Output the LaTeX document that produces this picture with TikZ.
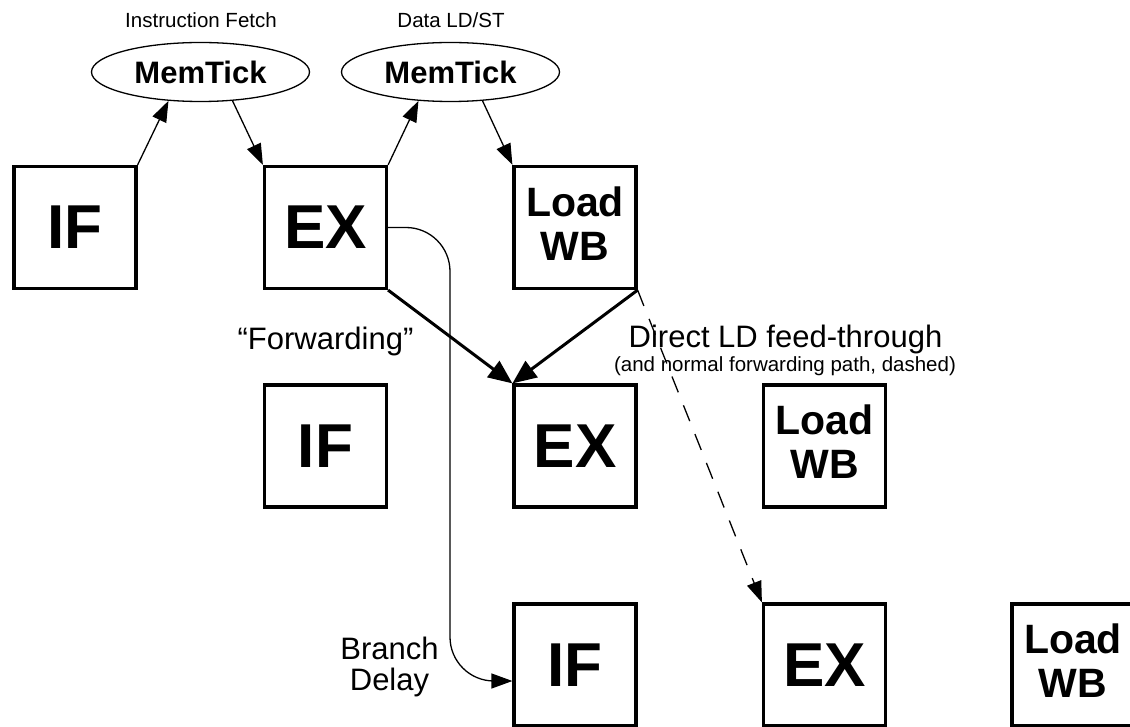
\documentclass[tikz,border=0pt]{standalone}
\usepackage{fontspec}
\setmainfont{Liberation Sans}
\usetikzlibrary{arrows.meta,shapes.geometric}
\newcommand\myfs[2]{\fontsize{#1}{#2}\selectfont}
\newcommand\lwbtext{Load\\WB\rule[-8pt]{0pt}{0pt}}
\tikzset{
  stagebox/.style={draw, line width=3.2pt, minimum size=122pt, inner sep=0pt,
    font=\bfseries\myfs{62}{62}},
  lwbbox/.style={stagebox, align=center, font=\bfseries\myfs{41}{44}},
  membox/.style={ellipse, draw, line width=1.3pt, minimum width=218pt,
    minimum height=59pt, inner sep=0pt, font=\bfseries\myfs{31}{31}},
  smalllabel/.style={anchor=base, inner sep=0pt, font=\myfs{20.5}{20.5}},
  biglabel/.style={anchor=base, inner sep=0pt, font=\myfs{31}{31}},
  thinarrow/.style={line width=1.3pt, -{Triangle[length=21pt,width=15pt]}},
  thickarrow/.style={line width=3pt, -{Triangle[length=24pt,width=20pt]}},
  dasharrow/.style={line width=1.3pt, dash pattern=on 17pt off 14pt,
    -{Triangle[length=21pt,width=15pt]}},
}
\begin{document}
\begin{tikzpicture}[x=1pt,y=-1pt]
\useasboundingbox (0,0) rectangle (1130,727);
\fill[white] (0,0) rectangle (1130,727);

% stages
\node[stagebox] (if1) at (75,227.5) {IF};
\node[stagebox] (ex1) at (325.5,227.5) {EX};
\node[lwbbox] (lwb1) at (575,227.5) {\lwbtext};
\node[stagebox] (if2) at (325.5,446) {IF};
\node[stagebox] (ex2) at (575,446) {EX};
\node[lwbbox] (lwb2) at (824.5,446) {\lwbtext};
\node[stagebox] (if3) at (575,665) {IF};
\node[stagebox] (ex3) at (824.5,665) {EX};
\node[lwbbox] (lwb3) at (1073,665) {\lwbtext};

% memory ticks
\node[membox] (mt1) at (200.5,72) {MemTick};
\node[membox] (mt2) at (450.5,72) {MemTick};
\node[smalllabel] (lif) at (201,27.5) {Instruction Fetch};
\node[smalllabel] (lld) at (451,27.5) {Data LD/ST};

% labels
\node[biglabel] (lfw) at (325.5,349) {“Forwarding”};
\node[biglabel] (ldl) at (785.5,347.5) {Direct LD feed-through};
\node[smalllabel] (ldn) at (785,371.5) {(and normal forwarding path, dashed)};
\node[biglabel] (lbr) at (389.5,659) {Branch};
\node[biglabel] (lde) at (389.5,690) {Delay};

% memory arrows
\draw[thinarrow] (if1.north east) -- (mt1.222);
\draw[thinarrow] (mt1.318) -- (ex1.north west);
\draw[thinarrow] (ex1.north east) -- (mt2.222);
\draw[thinarrow] (mt2.318) -- (lwb1.north west);

% forwarding
\draw[thickarrow] (ex1.south east) -- (ex2.north west);
\draw[thickarrow] (lwb1.south east) -- (ex2.north west);
\draw[dasharrow] (lwb1.south east) -- (ex3.north west);

% branch delay
\coordinate (bd) at (450,681);
\draw[thinarrow, rounded corners=44pt] (ex1.east) -| (bd) -- (if3.west |- bd);
\end{tikzpicture}
\end{document}
